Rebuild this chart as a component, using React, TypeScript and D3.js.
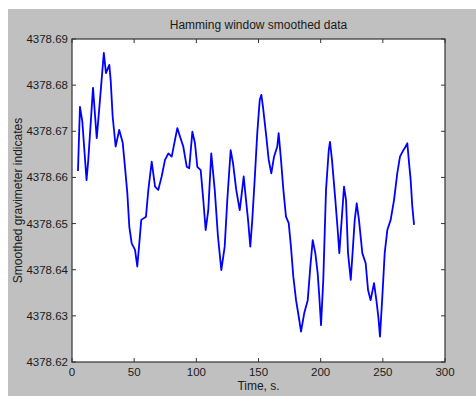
import * as d3 from 'd3';

const W = 476;
const H = 396;
const [mt, mr, mb, ml] = [39, 31, 34, 72];
const plotW = W - ml - mr;
const plotH = H - mt - mb;

// values
const time = [
    4.8, 6.4, 8.3, 11.7, 13.1, 16.9, 19.9, 22.5, 25.6, 27.3, 30.0, 31.1, 32.7, 35.1, 38.0, 40.8, 42.6, 44.5, 46.1,
    48.0, 50.7, 52.5, 53.9, 55.7, 59.5, 61.4, 64.1, 66.8, 69.4, 72.1, 74.8, 77.5, 80.2, 82.8, 84.7, 86.9, 89.5, 92.3,
    94.3, 96.8, 98.9, 100.8, 103.5, 105.6, 107.5, 109.6, 112.0, 114.8, 117.4, 120.1, 122.8, 124.9, 127.6, 129.5, 132.1,
    134.9, 136.2, 138.1, 139.7, 141.6, 143.4, 145.0, 146.9, 149.0, 151.0, 152.3, 153.6, 156.3, 158.2, 160.3, 162.5,
    165.1, 166.2, 168.1, 170.0, 172.1, 174.3, 176.1, 178.0, 180.2, 182.8, 184.2, 186.8, 189.6, 191.7, 193.6, 195.7,
    197.6, 198.9, 200.3, 202.1, 204.3, 206.5, 207.5, 209.1, 211.8, 213.7, 215.0, 216.9, 218.8, 220.4, 222.0, 224.2,
    226.0, 227.4, 229.0, 230.8, 233.5, 236.2, 238.1, 240.2, 242.9, 244.8, 246.4, 247.7, 249.6, 251.5, 253.6, 256.3,
    259.0, 261.6, 263.8, 266.5, 268.4, 269.7, 271.1, 272.4, 273.7, 275.1
];
const smoothed = [
    4378.6614, 4378.6753, 4378.6721, 4378.6594, 4378.6638, 4378.6794, 4378.6685, 4378.6768, 4378.687, 4378.6826,
    4378.6844, 4378.6811, 4378.6732, 4378.6667, 4378.6703, 4378.6675, 4378.6623, 4378.6566, 4378.6493, 4378.6457,
    4378.6443, 4378.6407, 4378.645, 4378.6508, 4378.6515, 4378.6573, 4378.6634, 4378.658, 4378.6573, 4378.6602,
    4378.6638, 4378.6652, 4378.6645, 4378.6681, 4378.6707, 4378.6688, 4378.6667, 4378.6623, 4378.662, 4378.6699,
    4378.6674, 4378.6623, 4378.6616, 4378.6551, 4378.6486, 4378.6529, 4378.6652, 4378.6573, 4378.6472, 4378.6399,
    4378.645, 4378.6551, 4378.6659, 4378.6631, 4378.6573, 4378.6529, 4378.6558, 4378.6602, 4378.6558, 4378.6508,
    4378.645, 4378.6508, 4378.6594, 4378.6696, 4378.6768, 4378.6779, 4378.6753, 4378.6688, 4378.6638, 4378.6609,
    4378.6645, 4378.6667, 4378.6696, 4378.6638, 4378.6573, 4378.6515, 4378.6501, 4378.645, 4378.6385, 4378.6334,
    4378.6291, 4378.6266, 4378.6306, 4378.6334, 4378.6407, 4378.6464, 4378.6436, 4378.6392, 4378.6342, 4378.628,
    4378.6378, 4378.6573, 4378.6659, 4378.6677, 4378.6638, 4378.6551, 4378.6486, 4378.6436, 4378.6508, 4378.658,
    4378.6551, 4378.6436, 4378.6378, 4378.645, 4378.6508, 4378.6544, 4378.6508, 4378.6436, 4378.6414, 4378.6356,
    4378.6334, 4378.6371, 4378.6334, 4378.6298, 4378.6255, 4378.6342, 4378.6436, 4378.6486, 4378.6508, 4378.6551,
    4378.6609, 4378.6645, 4378.6659, 4378.6667, 4378.6674, 4378.6631, 4378.6594, 4378.6537, 4378.6497
];
const xTicks = [0, 50, 100, 150, 200, 250, 300];
const yTicks = ['4378.62', '4378.63', '4378.64', '4378.65', '4378.66', '4378.67', '4378.68', '4378.69'];

const font = 'Liberation Sans, Arial, sans-serif';

export default function App() {
    const x = d3.scaleLinear().domain([0, 300]).range([ml, ml + plotW]);
    const y = d3.scaleLinear().domain([4378.62, 4378.69]).range([mt + plotH, mt]);

    const line = d3
        .line<number>()
        .x((_, i) => x(time[i]))
        .y((d) => y(d));

    const tl = 4;

    return (
        <svg
            width={W}
            height={H}
            style={{ position: 'absolute', left: 0, top: 0, background: '#fff' }}
        >
            <rect x={8} y={9} width={W - 8} height={H - 9} fill="#c0c0c0" />
            <rect x={ml} y={mt} width={plotW} height={plotH} fill="#fff" />

            <path d={line(smoothed) ?? ''} fill="none" stroke="#0000ff" strokeWidth={1.8} strokeLinejoin="round" />

            {/* ticks, all four sides, pointing in */}
            <g stroke="#333" strokeWidth={1}>
                {xTicks.map((t) => (
                    <g key={t}>
                        <line x1={x(t)} x2={x(t)} y1={mt + plotH} y2={mt + plotH - tl} />
                        <line x1={x(t)} x2={x(t)} y1={mt} y2={mt + tl} />
                    </g>
                ))}
                {yTicks.map((t) => (
                    <g key={t}>
                        <line x1={ml} x2={ml + tl} y1={y(+t)} y2={y(+t)} />
                        <line x1={ml + plotW} x2={ml + plotW - tl} y1={y(+t)} y2={y(+t)} />
                    </g>
                ))}
            </g>
            <rect x={ml} y={mt} width={plotW} height={plotH} fill="none" stroke="#333" strokeWidth={1.2} />

            <g fontFamily={font} fontSize={11.5} fill="#1a1a1a">
                {xTicks.map((t) => (
                    <text key={t} x={x(t)} y={376} textAnchor="middle">
                        {t}
                    </text>
                ))}
                {yTicks.map((t) => (
                    <text key={t} x={ml - 4} y={y(+t) + 4} textAnchor="end">
                        {t}
                    </text>
                ))}
            </g>

            <g fontFamily={font} fontSize={12} fill="#1a1a1a">
                <text x={ml + plotW / 2} y={29} textAnchor="middle">
                    Hamming window smoothed data
                </text>
                <text x={ml + plotW / 2} y={390} textAnchor="middle">
                    Time, s.
                </text>
                <text transform={`translate(22, ${mt + plotH / 2}) rotate(-90)`} textAnchor="middle">
                    Smoothed gravimeter indicates
                </text>
            </g>
        </svg>
    );
}
